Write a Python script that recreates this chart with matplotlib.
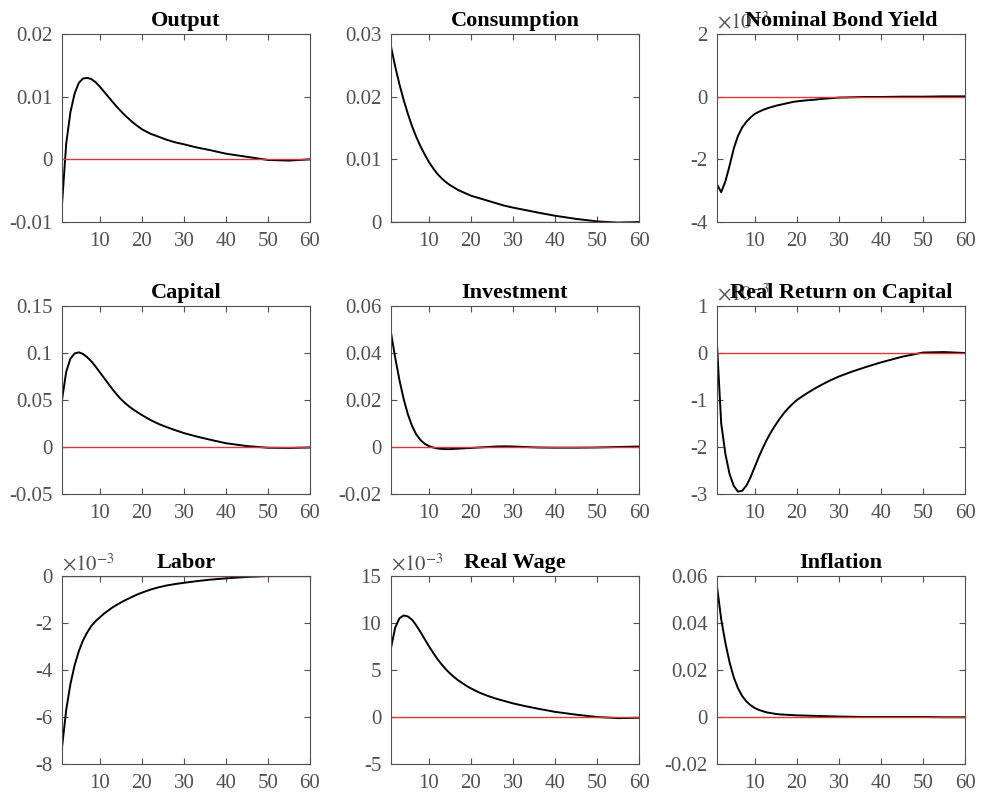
import matplotlib
matplotlib.use("Agg")
import matplotlib.pyplot as plt
from matplotlib.ticker import FuncFormatter

plt.rcParams['font.family'] = ['Liberation Serif', 'DejaVu Serif']
plt.rcParams['mathtext.fontset'] = 'stix'
plt.rcParams['axes.unicode_minus'] = False

periods = list(range(1, 21)) + [22, 24, 26, 28, 30, 33, 36, 40, 45, 50, 55, 60]

output = [-0.0072, 0.0025, 0.0075, 0.0105, 0.0122, 0.0129, 0.0130, 0.0128,
          0.0123, 0.0116, 0.0108, 0.0100, 0.0092, 0.0084, 0.0077, 0.0070,
          0.0064, 0.0058, 0.0053, 0.0048,
          0.0041, 0.0036, 0.0031, 0.0027, 0.0024, 0.0019, 0.0015, 0.0009,
          0.0004, -0.0001, -0.0002, 0.0]
consumption = [0.0280, 0.0248, 0.0220, 0.0195, 0.0173, 0.0153, 0.0136, 0.0121,
               0.0108, 0.0096, 0.0086, 0.0077, 0.0070, 0.0064, 0.0059, 0.0055,
               0.0051, 0.0048, 0.0045, 0.0042,
               0.0038, 0.0034, 0.0030, 0.0026, 0.0023, 0.0019, 0.0015, 0.0010,
               0.0005, 0.0001, -0.0001, 0.0]
bond_yield = [-2.80e-3, -3.05e-3, -2.70e-3, -2.20e-3, -1.65e-3, -1.25e-3,
              -0.98e-3, -0.80e-3, -0.66e-3, -0.55e-3, -0.48e-3, -0.42e-3,
              -0.37e-3, -0.33e-3, -0.29e-3, -0.26e-3, -0.23e-3, -0.20e-3,
              -0.17e-3, -0.15e-3,
              -0.12e-3, -0.10e-3, -0.07e-3, -0.05e-3, -0.03e-3, -0.02e-3,
              -0.01e-3, -0.01e-3, 0.0, 0.0, 0.01e-3, 0.01e-3]
capital = [0.050, 0.080, 0.094, 0.0995, 0.1007, 0.0990, 0.0955, 0.0910,
           0.0855, 0.0795, 0.0735, 0.0675, 0.0615, 0.0560, 0.0510, 0.0468,
           0.0430, 0.0398, 0.0368, 0.0340,
           0.0288, 0.0245, 0.0210, 0.0178, 0.0148, 0.0112, 0.0080, 0.0040,
           0.0010, -0.0008, -0.0010, -0.0005]
investment = [0.0486, 0.0380, 0.0286, 0.0205, 0.0140, 0.0090, 0.0054, 0.0030,
              0.0014, 0.0004, -0.0002, -0.0006, -0.0008, -0.0009, -0.0009,
              -0.0008, -0.0007, -0.0006, -0.0005, -0.0004,
              -0.0002, 0.0, 0.0002, 0.0003, 0.0002, 0.0, -0.0002, -0.0003,
              -0.0003, -0.0002, 0.0, 0.0002]
real_return = [0.18e-3, -1.50e-3, -2.15e-3, -2.58e-3, -2.83e-3, -2.95e-3,
               -2.93e-3, -2.82e-3, -2.64e-3, -2.42e-3, -2.20e-3, -2.00e-3,
               -1.82e-3, -1.66e-3, -1.52e-3, -1.39e-3, -1.27e-3, -1.17e-3,
               -1.08e-3, -1.00e-3,
               -0.88e-3, -0.77e-3, -0.67e-3, -0.58e-3, -0.50e-3, -0.40e-3,
               -0.31e-3, -0.20e-3, -0.08e-3, 0.01e-3, 0.02e-3, 0.0]
labor = [-7.3e-3, -5.7e-3, -4.6e-3, -3.8e-3, -3.2e-3, -2.74e-3, -2.40e-3,
         -2.12e-3, -1.92e-3, -1.76e-3, -1.60e-3, -1.47e-3, -1.34e-3, -1.23e-3,
         -1.13e-3, -1.03e-3, -0.95e-3, -0.86e-3, -0.78e-3, -0.71e-3,
         -0.58e-3, -0.48e-3, -0.40e-3, -0.34e-3, -0.29e-3, -0.22e-3,
         -0.16e-3, -0.10e-3, -0.04e-3, 0.0, 0.0, 0.0]
real_wage = [7.35e-3, 9.5e-3, 10.5e-3, 10.8e-3, 10.7e-3, 10.35e-3, 9.75e-3,
             9.05e-3, 8.3e-3, 7.55e-3, 6.85e-3, 6.2e-3, 5.62e-3, 5.1e-3,
             4.65e-3, 4.25e-3, 3.9e-3, 3.6e-3, 3.3e-3, 3.05e-3,
             2.6e-3, 2.25e-3, 1.95e-3, 1.7e-3, 1.45e-3, 1.15e-3, 0.88e-3,
             0.55e-3, 0.25e-3, 0.0, -0.12e-3, -0.08e-3]
inflation = [0.0556, 0.0416, 0.0315, 0.0232, 0.0168, 0.0122, 0.0089, 0.0066,
             0.0050, 0.0038, 0.0030, 0.0024, 0.0019, 0.0016, 0.0013, 0.0011,
             0.0010, 0.0009, 0.0008, 0.0007,
             0.0006, 0.0005, 0.0004, 0.0003, 0.0002, 0.0001, 0.0, 0.0, 0.0,
             0.0, -0.0001, -0.0001]

titles = ['Output', 'Consumption', 'Nominal Bond Yield',
          'Capital', 'Investment', 'Real Return on Capital',
          'Labor', 'Real Wage', 'Inflation']
series = [output, consumption, bond_yield,
          capital, investment, real_return,
          labor, real_wage, inflation]
yticks = [[-0.01, 0, 0.01, 0.02], [0, 0.01, 0.02, 0.03], [-4e-3, -2e-3, 0, 2e-3],
          [-0.05, 0, 0.05, 0.1, 0.15], [-0.02, 0, 0.02, 0.04, 0.06],
          [-3e-3, -2e-3, -1e-3, 0, 1e-3],
          [-8e-3, -6e-3, -4e-3, -2e-3, 0], [-5e-3, 0, 5e-3, 10e-3, 15e-3],
          [-0.02, 0, 0.02, 0.04, 0.06]]
scaled = [False, False, True, False, False, True, True, True, False]

grey = '#505050'
fig = plt.figure(figsize=(9.81, 7.96), dpi=100)

lefts = [62, 391, 717]
tops = [34, 306, 576]
W, H = 981, 796

for i in range(9):
    r, c = divmod(i, 3)
    ax = fig.add_axes([lefts[c] / W, 1 - (tops[r] + 188) / H, 248 / W, 188 / H])
    ax.plot(periods, series[i], color='black', lw=1.4)
    ax.axhline(0, color='#d43c3c', lw=1.0)
    ax.set_xlim(1, 60)
    ax.set_xticks([10, 20, 30, 40, 50, 60])
    ax.set_ylim(yticks[i][0], yticks[i][-1])
    ax.set_yticks(yticks[i])
    if scaled[i]:
        ax.yaxis.set_major_formatter(FuncFormatter(lambda v, p: '%g' % round(v * 1e3, 6)))
        ax.text(0.0, 1.005, r'$\times10^{-3}$', transform=ax.transAxes,
                ha='left', va='bottom', fontsize=15, color=grey)
    else:
        ax.yaxis.set_major_formatter(FuncFormatter(lambda v, p: '%g' % round(v, 6)))
    ax.tick_params(direction='in', top=True, right=True, length=4, width=0.8,
                   colors=grey, labelsize=15, pad=7)
    for s in ax.spines.values():
        s.set_color(grey)
        s.set_linewidth(0.8)
    ax.set_title(titles[i], fontsize=16, fontweight='bold', pad=6)

fig.savefig('out.png', dpi=100)
